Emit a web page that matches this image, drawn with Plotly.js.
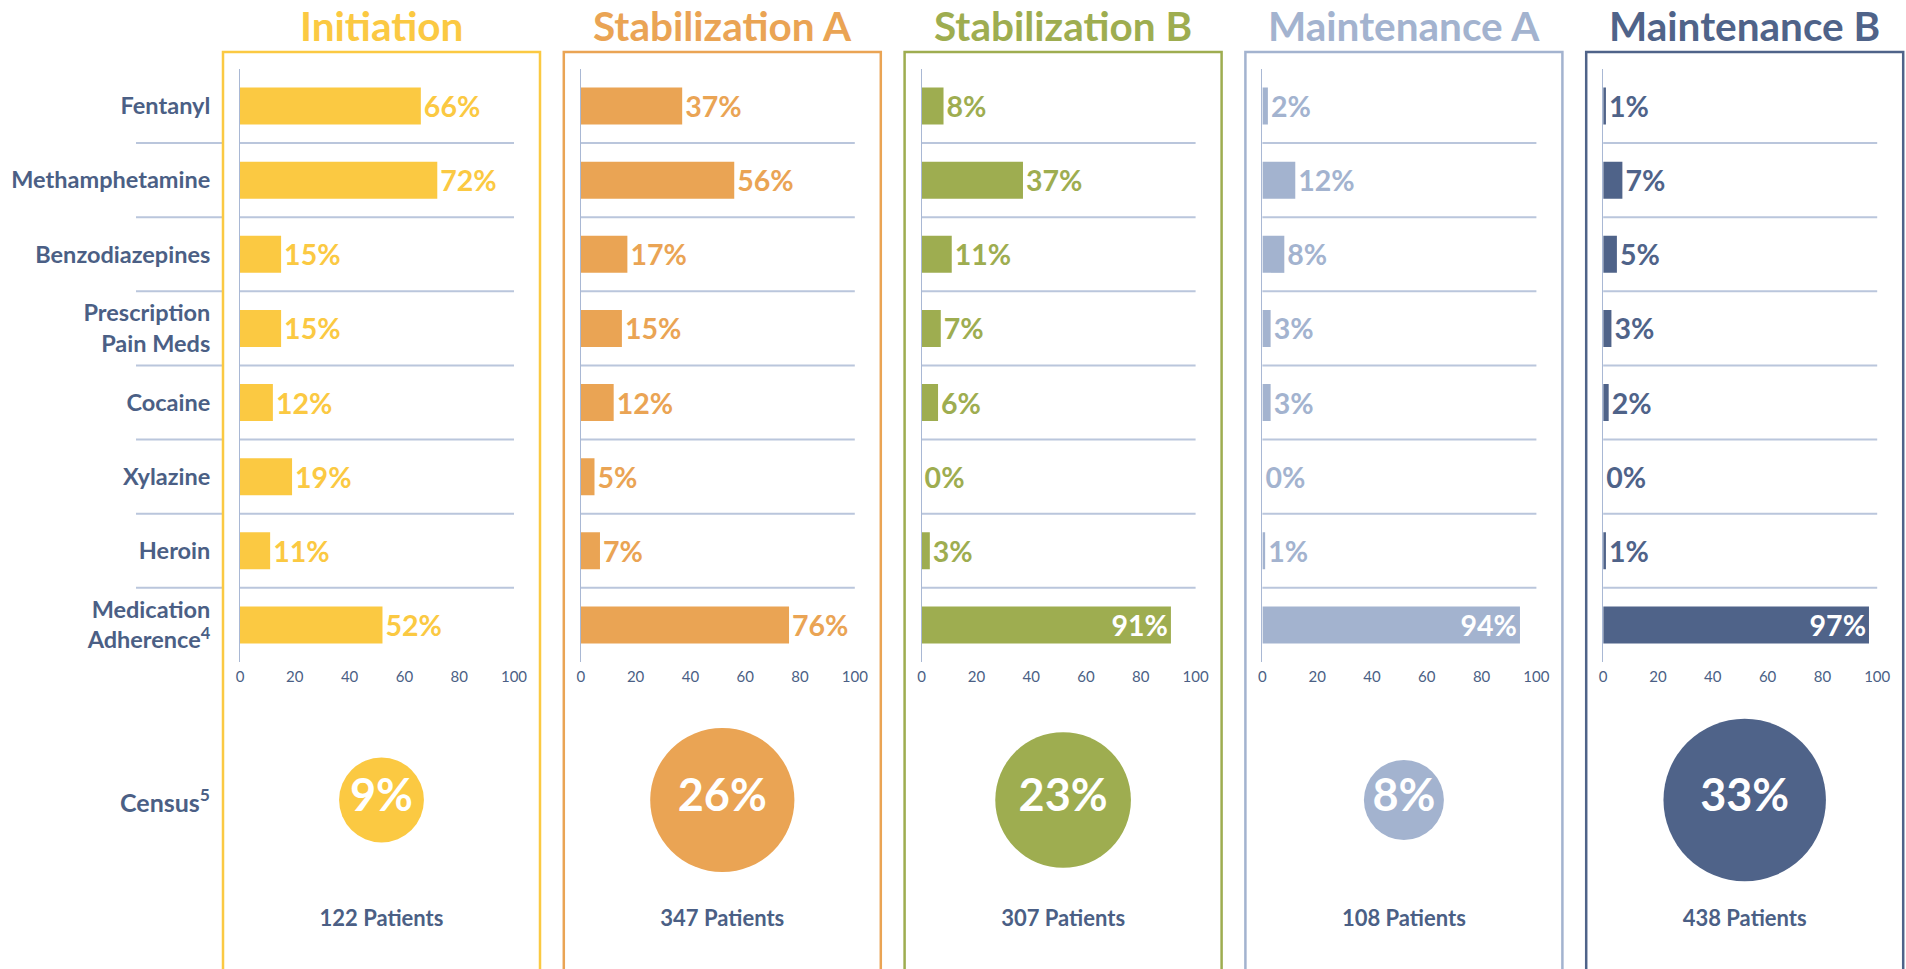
<!DOCTYPE html>
<html>
<head>
<meta charset="utf-8">
<script src="https://cdn.plot.ly/plotly-3.0.1.min.js"></script>
<style>
  html, body { margin: 0; padding: 0; background: #fff; }
  #chart { width: 1906px; height: 969px; }
</style>
</head>
<body>
<div id="chart"></div>
<script>
// Substance use by treatment phase, with census share per phase

var phases = ['Initiation', 'Stabilization A', 'Stabilization B', 'Maintenance A', 'Maintenance B'];
var substances = ['Fentanyl', 'Methamphetamine', 'Benzodiazepines', 'Prescription<br>Pain Meds',
  'Cocaine', 'Xylazine', 'Heroin', 'Medication<br>Adherence<sup>4</sup>'];

var initiation = [66, 72, 15, 15, 12, 19, 11, 52];
var stabA = [37, 56, 17, 15, 12, 5, 7, 76];
var stabB = [8, 37, 11, 7, 6, 0, 3, 91];
var maintA = [2, 12, 8, 3, 3, 0, 1, 94];
var maintB = [1, 7, 5, 3, 2, 0, 1, 97];

var census = [9, 26, 23, 8, 33];
var patients = [122, 347, 307, 108, 438];

var xTicks = [0, 20, 40, 60, 80, 100];

var colors = ['#fbc942', '#eaa454', '#9ead50', '#a3b3cf', '#4f6389'];
var textColor = '#4b5f85';
var gridColor = '#bac6dc';
var font = 'Lato, "Open Sans", sans-serif';

var W = 1906, H = 969;
function px(v) { return v / W; }
function py(v) { return 1 - v / H; }

var series = [initiation, stabA, stabB, maintA, maintB];
var data = [];
var shapes = [];
var annotations = [];

var layout = {
  width: W,
  height: H,
  margin: {l: 0, r: 0, t: 0, b: 0},
  paper_bgcolor: '#fff',
  plot_bgcolor: 'rgba(0,0,0,0)',
  showlegend: false,
  bargap: 0.5,
  font: {family: font, color: textColor},
  hovermode: false
};

var step = 340.8;
var plotW = 274;
var plotTop = 69, plotBottom = 662;

series.forEach(function(vals, i) {
  var n = i + 1;
  var sfx = n === 1 ? '' : n;
  var left = 240 + step * i;

  data.push({
    type: 'bar',
    orientation: 'h',
    x: vals,
    y: substances,
    xaxis: 'x' + sfx,
    yaxis: 'y' + sfx,
    marker: {color: colors[i]},
    texttemplate: '%{x}%',
    textposition: vals.map(function(v) { return v > 80 ? 'inside' : 'outside'; }),
    insidetextanchor: 'end',
    insidetextfont: {family: font, size: 28.5, color: '#fff', weight: 'bold'},
    outsidetextfont: {family: font, size: 28.5, color: colors[i], weight: 'bold'},
    constraintext: 'none',
    cliponaxis: false,
    hoverinfo: 'skip'
  });

  layout['xaxis' + sfx] = {
    domain: [px(left), px(left + plotW)],
    anchor: 'y' + sfx,
    range: [0, 100],
    tickvals: xTicks,
    showgrid: false,
    zeroline: false,
    showline: false,
    ticks: '',
    ticklabelstandoff: 4,
    tickfont: {family: font, size: 15, color: textColor},
    fixedrange: true
  };
  layout['yaxis' + sfx] = {
    domain: [py(plotBottom), py(plotTop)],
    anchor: 'x' + sfx,
    type: 'category',
    range: [substances.length - 0.5, -0.5],
    showgrid: false,
    zeroline: false,
    showline: true,
    linecolor: '#a9b8d4',
    linewidth: 1,
    ticks: '',
    showticklabels: i === 0,
    ticklabelstandoff: 24,
    tickfont: {family: font, size: 23.5, color: textColor, weight: 'bold'},
    fixedrange: true
  };

  // separators between categories
  for (var k = 0; k < substances.length - 1; k++) {
    shapes.push({
      type: 'line', layer: 'below',
      xref: 'x' + sfx + ' domain', x0: 0, x1: 1,
      yref: 'y' + sfx, y0: k + 0.5, y1: k + 0.5,
      line: {color: gridColor, width: 2}
    });
    if (i === 0) {
      shapes.push({
        type: 'line', layer: 'below',
        xref: 'paper', x0: px(136), x1: px(222),
        yref: 'y', y0: k + 0.5, y1: k + 0.5,
        line: {color: gridColor, width: 2}
      });
    }
  }

  // panel frame, open at the bottom
  var boxL = left - 17;
  shapes.push({
    type: 'path', layer: 'below',
    xref: 'paper', yref: 'paper',
    path: 'M' + px(boxL) + ',-0.05 L' + px(boxL) + ',' + py(52) +
      ' L' + px(boxL + 317) + ',' + py(52) + ' L' + px(boxL + 317) + ',-0.05',
    line: {color: colors[i], width: 2.5}
  });

  annotations.push({
    text: phases[i],
    xref: 'paper', yref: 'paper',
    x: px(boxL + 158.5), y: py(25),
    xanchor: 'center', yanchor: 'middle',
    showarrow: false,
    font: {family: font, size: 40.5, color: colors[i], weight: 'bold'}
  });
});

// census bubbles and patient counts
var idx = phases.map(function(p, i) { return i; });
var c0 = 240 - 17 + 158.5;
layout.xaxis6 = {
  domain: [0, 1], anchor: 'y6',
  range: [-c0 / step, (W - c0) / step],
  visible: false, fixedrange: true
};
layout.yaxis6 = {
  domain: [py(960), py(700)], anchor: 'x6',
  range: [-40 / 120, 220 / 120],
  visible: false, fixedrange: true
};

data.push({
  type: 'scatter',
  mode: 'markers+text',
  x: idx,
  y: idx.map(function() { return 1; }),
  xaxis: 'x6', yaxis: 'y6',
  marker: {size: census, sizemode: 'area', sizeref: 1 / 400, color: colors, opacity: 1, line: {width: 0}},
  text: census.map(function(v) { return v + '%'; }),
  textposition: 'middle center',
  textfont: {family: font, size: 45, color: '#fff', weight: 'bold'},
  cliponaxis: false,
  hoverinfo: 'skip'
});

data.push({
  type: 'scatter',
  mode: 'text',
  x: idx,
  y: idx.map(function() { return 0; }),
  xaxis: 'x6', yaxis: 'y6',
  text: patients.map(function(v) { return v + ' Patients'; }),
  textposition: 'middle center',
  textfont: {family: font, size: 22, color: textColor, weight: 'bold'},
  cliponaxis: false,
  hoverinfo: 'skip'
});

annotations.push({
  text: 'Census<sup>5</sup>',
  xref: 'paper', yref: 'y6',
  x: px(212), y: 1,
  xanchor: 'right', yanchor: 'middle',
  showarrow: false,
  font: {family: font, size: 25, color: textColor, weight: 'bold'}
});

layout.shapes = shapes;
layout.annotations = annotations;

Plotly.newPlot('chart', data, layout, {displayModeBar: false, staticPlot: true});
</script>
</body>
</html>
